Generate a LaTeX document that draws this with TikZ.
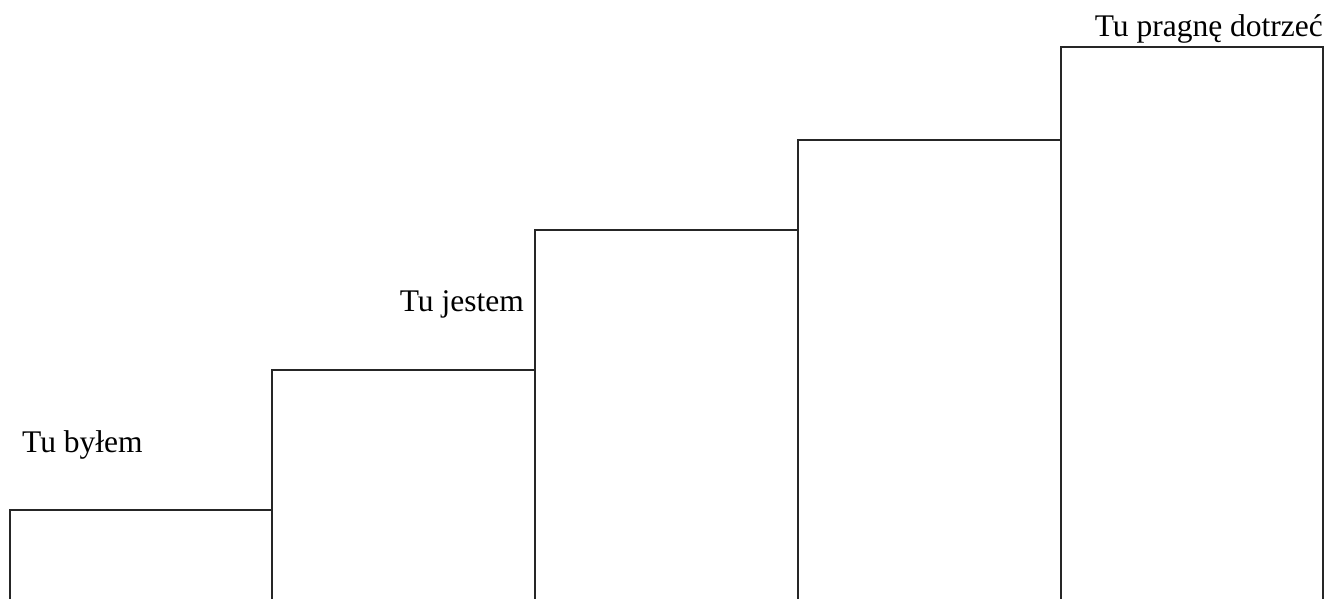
\documentclass[tikz,border=0pt]{standalone}
\usepackage{fontspec}
\setmainfont{Liberation Serif}
\begin{document}
\begin{tikzpicture}[x=1pt,y=-1pt,
  stepbox/.style={draw=black!85,line width=1.3pt},
  lbl/.style={inner sep=0pt,font=\fontsize{31.5}{36}\selectfont}]
\useasboundingbox (0,0) rectangle (1328,598);
\clip (0,0) rectangle (1328,598);
\draw[stepbox] (10,510) rectangle (272,640);
\draw[stepbox] (272,370) rectangle (535,640);
\draw[stepbox] (535,230) rectangle (798,640);
\draw[stepbox] (798,140) rectangle (1061,640);
\draw[stepbox] (1061,47) rectangle (1323,640);
\node[lbl,anchor=base west] (l1) at (22,452) {Tu byłem};
\node[lbl,anchor=base east] (l2) at (524,311) {Tu jestem};
\node[lbl,anchor=base east] (l3) at (1323,36) {Tu pragnę dotrzeć};
\end{tikzpicture}
\end{document}
